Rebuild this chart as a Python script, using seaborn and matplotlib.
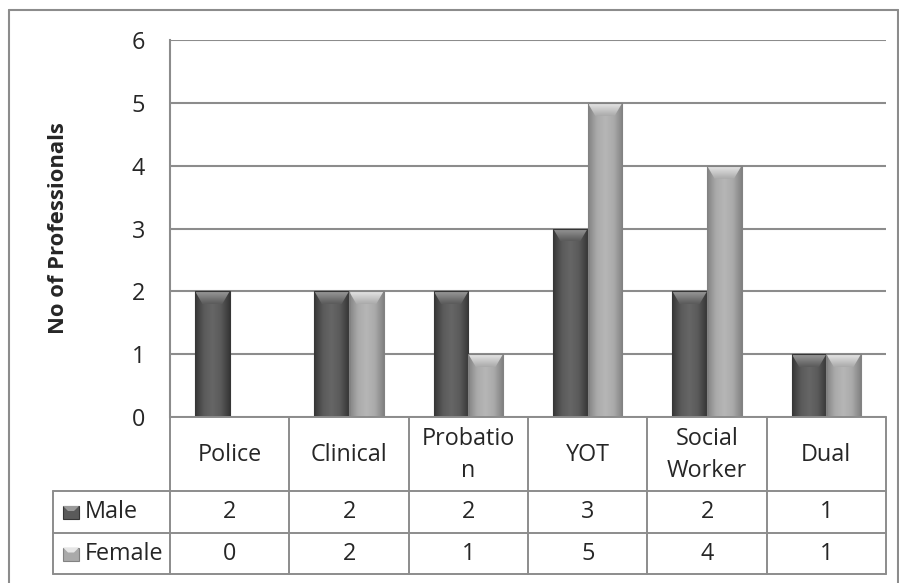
import numpy as np
import pandas as pd
import matplotlib
matplotlib.use("Agg")
import matplotlib.pyplot as plt
from matplotlib.patches import Rectangle, Polygon
from matplotlib.colors import LinearSegmentedColormap
import seaborn as sns

# ---- data ----
categories = ["Police", "Clinical", "Probation", "YOT", "Social Worker", "Dual"]
header_labels = ["Police", "Clinical", "Probatio\nn", "YOT", "Social\nWorker", "Dual"]
male = [2, 2, 2, 3, 2, 1]
female = [0, 2, 1, 5, 4, 1]
series = ["Male", "Female"]
yticks = [0, 1, 2, 3, 4, 5, 6]

W, H = 899, 583
sns.set_theme(style="white")
plt.rcParams["font.family"] = ["Open Sans", "DejaVu Sans"]

FS = 16.8
male_col, female_col = "#5a5a5a", "#aaaaaa"
male_dark, female_dark = "#363636", "#828282"
male_light, female_light = "#9a9a9a", "#e6e6e6"
grid_col = "#8c8c8c"

df = pd.DataFrame({
    "Profession": categories * 2,
    "Gender": ["Male"] * len(categories) + ["Female"] * len(categories),
    "Count": male + female,
})

fig = plt.figure(figsize=(W / 100, H / 100), dpi=100)

def fx(x):
    return x / W

def fy(y):
    return 1 - y / H

L, R, T, B = 170, 886, 40, 417
ax = fig.add_axes([fx(L), fy(B), fx(R) - fx(L), fy(T) - fy(B)])

sns.barplot(data=df, x="Profession", y="Count", hue="Gender", order=categories,
            hue_order=series, palette=[male_col, female_col], width=0.58, gap=0,
            saturation=1, legend=False, ax=ax, zorder=3, edgecolor="none")

# bevelled / gradient look
cmaps = {
    male_col: LinearSegmentedColormap.from_list("m", [male_dark, male_col, "#666666", male_col, male_dark]),
    female_col: LinearSegmentedColormap.from_list("f", [female_dark, female_col, "#b6b6b6", female_col, female_dark]),
}
grad = np.linspace(0, 1, 64).reshape(1, -1)
vgrad = np.linspace(0, 1, 32).reshape(-1, 1)
unit_px = (B - T) / 6.0
for p in list(ax.patches):
    x, y = p.get_x(), p.get_y()
    w, h = p.get_width(), p.get_height()
    if h <= 0:
        continue
    fc = matplotlib.colors.to_hex(p.get_facecolor())
    key = male_col if fc == male_col else female_col
    im = ax.imshow(grad, cmap=cmaps[key], extent=[x, x + w, y, y + h], aspect="auto",
                   zorder=3.5, interpolation="bicubic")
    im.set_clip_path(p)
    d = 13 / unit_px
    light = male_light if key == male_col else female_light
    cap = Polygon([[x, y + h], [x + w, y + h], [x + w * 0.78, y + h - d], [x + w * 0.22, y + h - d]],
                  closed=True, facecolor="none", edgecolor="none", zorder=4)
    ax.add_patch(cap)
    ccm = LinearSegmentedColormap.from_list("c", [key, light])
    im2 = ax.imshow(vgrad, cmap=ccm, extent=[x, x + w, y + h - d, y + h], aspect="auto",
                    origin="lower", zorder=4, interpolation="bicubic")
    im2.set_clip_path(cap)
    ax.add_patch(Rectangle((x, y), w, h, facecolor="none",
                           edgecolor=male_dark if key == male_col else female_dark, lw=0.8, zorder=4.5))

ax.set_xlim(-0.5, len(categories) - 0.5)
ax.set_ylim(0, 6)
ax.set_yticks(yticks)
ax.set_yticklabels([str(v) for v in yticks], fontsize=FS)
ax.set_xticks([])
ax.set_xlabel("")
ax.set_ylabel("")
ax.tick_params(axis="y", length=0, pad=18)
ax.yaxis.grid(True, color=grid_col, lw=1.5, zorder=0)
for s in ["top", "right", "bottom"]:
    ax.spines[s].set_visible(False)
ax.spines["left"].set_color(grid_col)
ax.spines["left"].set_linewidth(1.5)

fig.text(fx(59), fy(228), "No of Professionals", rotation=90, ha="center", va="center",
         fontsize=15.8, fontweight="bold")

# ---- data table ----
tax = fig.add_axes([0, 0, 1, 1], zorder=5)
tax.set_xlim(0, W)
tax.set_ylim(H, 0)
tax.axis("off")
tax.patch.set_alpha(0)

n = len(categories)
cw = (R - L) / n
bounds = [L + i * cw for i in range(n + 1)]
rows = [B, 491, 533, 574]
TL = 53
lw = 1.4
tax.plot([L, R], [B, B], color=grid_col, lw=lw)
for yy in rows[1:]:
    tax.plot([TL, R], [yy, yy], color=grid_col, lw=lw)
for xx in bounds:
    tax.plot([xx, xx], [B, rows[-1]], color=grid_col, lw=lw)
tax.plot([TL, TL], [rows[1], rows[-1]], color=grid_col, lw=lw)

for i, lab in enumerate(header_labels):
    cx = (bounds[i] + bounds[i + 1]) / 2
    tax.text(cx, (rows[0] + rows[1]) / 2 + 1, lab, ha="center", va="center", fontsize=FS,
             linespacing=1.4)
for r, (name, vals, col, dark, light) in enumerate([
        ("Male", male, male_col, male_dark, male_light),
        ("Female", female, female_col, female_dark, female_light)]):
    cy = (rows[r + 1] + rows[r + 2]) / 2
    for i, v in enumerate(vals):
        cx = (bounds[i] + bounds[i + 1]) / 2
        tax.text(cx, cy, str(v), ha="center", va="center", fontsize=FS)
    tax.add_patch(Rectangle((63, cy - 6), 16, 13, facecolor=col, edgecolor=dark, lw=0.8))
    tax.add_patch(Polygon([[63, cy - 6], [79, cy - 6], [74, cy - 1], [68, cy - 1]], closed=True,
                          facecolor=light, edgecolor="none"))
    tax.text(85, cy, name, ha="left", va="center", fontsize=FS)

# outer frame
tax.plot([9, 9], [H + 5, 10], color=grid_col, lw=1.5)
tax.plot([9, 898], [10, 10], color=grid_col, lw=1.5)
tax.plot([898, 898], [10, H + 5], color=grid_col, lw=1.5)

fig.savefig("out.png", dpi=100)
